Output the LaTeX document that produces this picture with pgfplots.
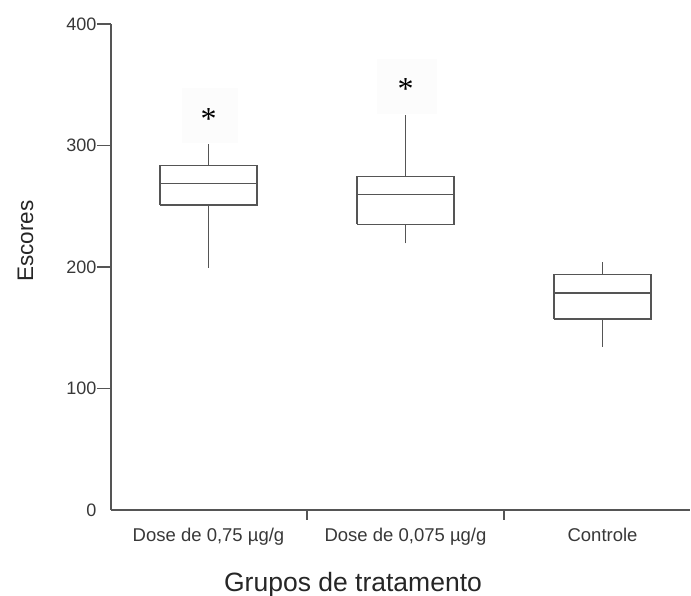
\documentclass[border=0pt]{standalone}
\usepackage{fontspec}
\setmainfont{Liberation Sans}
\newfontfamily\serifast{Liberation Serif}
\usepackage{pgfplots}
\pgfplotsset{compat=1.18}
\definecolor{axgray}{HTML}{555555}
\definecolor{txtgray}{HTML}{383838}
\definecolor{faint}{HTML}{FCFCFC}
\tikzset{boxline/.style={draw=axgray, line width=1.6pt, mark=none, solid, line join=miter}}
\begin{document}
\begin{tikzpicture}
\useasboundingbox (0pt,0pt) rectangle (691pt,596pt);
\begin{axis}[
  at={(111pt,86pt)}, anchor=south west,
  scale only axis, width=579pt, height=486pt,
  xmin=0.505, xmax=3.444, ymin=0, ymax=400,
  axis x line=bottom, axis y line=left,
  axis line style={-, draw=axgray, line width=1.4pt},
  tick align=outside,
  major tick length=14pt,
  ytick={100,200,300,400},
  extra y ticks={0},
  extra y tick style={y tick style={draw=none}},
  tick style={draw=axgray, line width=1.4pt},
  xtick={1,2,3},
  xticklabels={{Dose de 0,75 µg/g}, {Dose de 0,075 µg/g}, {Controle}},
  x tick style={draw=none},
  extra x ticks={1.5,2.5},
  extra x tick labels={},
  extra x tick style={major tick length=10pt, x tick style={draw=axgray, line width=1.3pt}},
  /pgf/number format/assume math mode=true,
  yticklabel style={font=\fontsize{18}{18}\selectfont, text=txtgray, xshift=3pt},
  xticklabel style={font=\fontsize{18.5}{18.5}\selectfont, text=txtgray, anchor=base, yshift=-18pt},
  xlabel={Grupos de tratamento},
  ylabel={Escores},
  xlabel style={font=\fontsize{26.5}{26.5}\selectfont, text=black!85, at={(rel axis cs:0.418,-0.1667)}, anchor=base},
  ylabel style={font=\fontsize{22.5}{22.5}\selectfont, text=black!85, at={(rel axis cs:-0.1347,0.553)}, anchor=base},
  clip=false,
]
\node[fill=faint, minimum width=56pt, minimum height=55pt, inner sep=0pt] at (axis cs:1.008,324.7) {};
\node[fill=faint, minimum width=60pt, minimum height=55pt, inner sep=0pt] at (axis cs:2.01,348.5) {};
% Dose de 0,75: lw 199.4, q1 251, med 268.6, q3 283.4, uw 301.2
\addplot[boxline] coordinates {(0.7525,251) (1.2475,251) (1.2475,283.4) (0.7525,283.4) (0.7525,251)};
\addplot[boxline] coordinates {(0.7525,268.6) (1.2475,268.6)};
\addplot[boxline] coordinates {(1,283.4) (1,301.2)};
\addplot[boxline] coordinates {(1,199.4) (1,251)};
% Dose de 0,075: lw 219.5, q1 235.1, med 259.8, q3 274.6, uw 325
\addplot[boxline] coordinates {(1.7525,235.1) (2.2475,235.1) (2.2475,274.6) (1.7525,274.6) (1.7525,235.1)};
\addplot[boxline] coordinates {(1.7525,259.8) (2.2475,259.8)};
\addplot[boxline] coordinates {(2,274.6) (2,325.0)};
\addplot[boxline] coordinates {(2,219.5) (2,235.1)};
% Controle: lw 134.4, q1 157.2, med 178.8, q3 193.7, uw 203.9
\addplot[boxline] coordinates {(2.7525,157.2) (3.2475,157.2) (3.2475,193.7) (2.7525,193.7) (2.7525,157.2)};
\addplot[boxline] coordinates {(2.7525,178.8) (3.2475,178.8)};
\addplot[boxline] coordinates {(3,193.7) (3,203.9)};
\addplot[boxline] coordinates {(3,134.4) (3,157.2)};
\node[font=\serifast\fontsize{32}{32}\selectfont, anchor=base, inner sep=0pt] at (axis cs:1.0,313.5) {*};
\node[font=\serifast\fontsize{32}{32}\selectfont, anchor=base, inner sep=0pt] at (axis cs:2.0,337.6) {*};
\end{axis}
\end{tikzpicture}
\end{document}
